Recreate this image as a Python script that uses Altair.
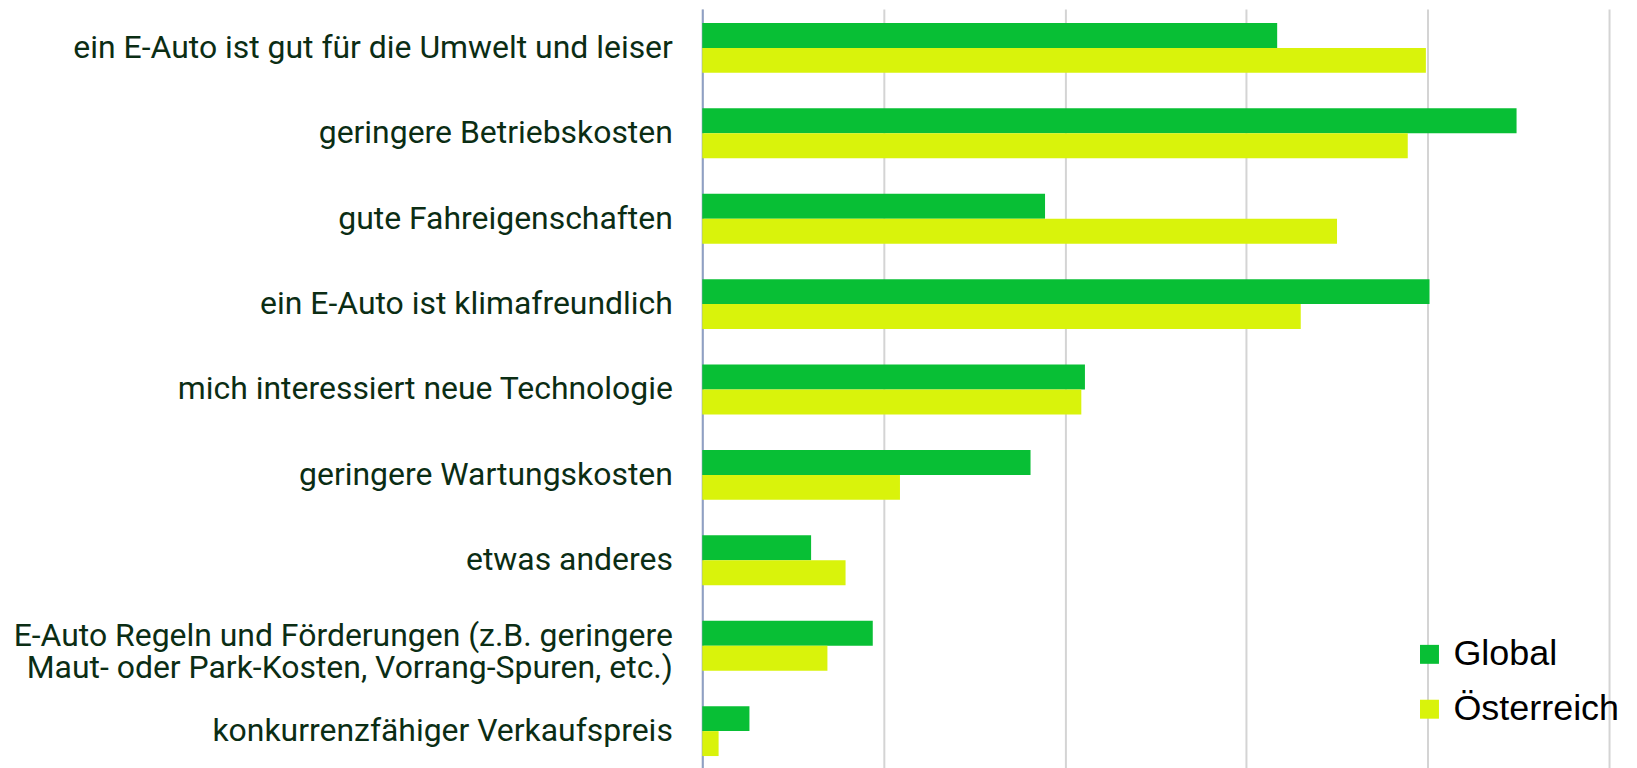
import altair as alt
import pandas as pd

categories = [
    "ein E-Auto ist gut für die Umwelt und leiser",
    "geringere Betriebskosten",
    "gute Fahreigenschaften",
    "ein E-Auto ist klimafreundlich",
    "mich interessiert neue Technologie",
    "geringere Wartungskosten",
    "etwas anderes",
    "E-Auto Regeln und Förderungen (z.B. geringere\nMaut- oder Park-Kosten, Vorrang-Spuren, etc.)",
    "konkurrenzfähiger Verkaufspreis",
]
global_vals = [31.7, 44.9, 18.9, 40.1, 21.1, 18.1, 6.0, 9.4, 2.6]
austria_vals = [39.9, 38.9, 35.0, 33.0, 20.9, 10.9, 7.9, 6.9, 0.9]
series = ["Global", "Österreich"]
colors = ["#08BF35", "#D9F30B"]

rows = []
for c, g, a in zip(categories, global_vals, austria_vals):
    rows.append({"cat": c, "series": series[0], "value": g})
    rows.append({"cat": c, "series": series[1], "value": a})
df = pd.DataFrame(rows)

chart = alt.Chart(df).mark_bar().encode(
    y=alt.Y(
        "cat:N",
        sort=categories,
        title=None,
        scale=alt.Scale(paddingInner=0.416, paddingOuter=0.164),
        axis=alt.Axis(
            labelExpr="split(datum.label, '\\n')",
            labelFont="Roboto",
            labelFontSize=32,
            labelColor="#0B2D14",
            labelLineHeight=32,
            labelPadding=30,
            labelLimit=900,
            labelOffset={
                "condition": {"test": "indexof(datum.value, 'Regeln') >= 0", "value": -10},
                "value": 0,
            },
            ticks=False,
            domainColor="#8FA0C4",
            domainWidth=2,
        ),
    ),
    yOffset=alt.YOffset("series:N", sort=series, scale=alt.Scale(paddingInner=0, paddingOuter=0)),
    x=alt.X(
        "value:Q",
        title=None,
        scale=alt.Scale(domain=[0, 50], nice=False),
        axis=alt.Axis(
            values=[0, 10, 20, 30, 40, 50],
            labels=False,
            ticks=False,
            domain=False,
            gridColor="#D4D4D4",
            gridWidth=2,
        ),
    ),
    color=alt.Color(
        "series:N",
        sort=series,
        scale=alt.Scale(domain=series, range=colors),
        legend=alt.Legend(
            title=None,
            orient="none",
            legendX=711,
            legendY=629,
            symbolType="square",
            symbolSize=361,
            symbolStrokeWidth=0,
            labelFont="Liberation Sans",
            labelFontSize=36,
            labelColor="#000000",
            labelLimit=400,
            rowPadding=19,
            labelOffset=6,
            padding=0,
        ),
    ),
).properties(
    width=909,
    height=763,
    padding={"left": 696, "top": 0, "right": 20, "bottom": 0},
    autosize=alt.AutoSizeParams(type="none"),
).configure_view(stroke=None)

chart.save("out.html", embed_options={"renderer": "svg", "actions": False})
